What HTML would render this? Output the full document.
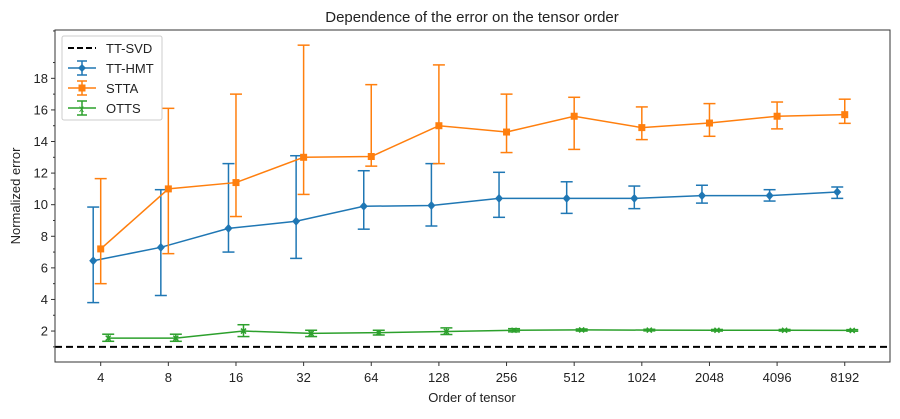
<!DOCTYPE html>
<html><head><meta charset="utf-8"><style>
body{margin:0;background:#fff;}
svg text{font-family:"Liberation Sans","DejaVu Sans",sans-serif;fill:#222;}
</style></head><body>
<svg id="chart" width="900" height="414" xmlns="http://www.w3.org/2000/svg">
<rect x="0" y="0" width="900" height="414" fill="#fff"/>
<text x="472" y="22" font-size="15" text-anchor="middle">Dependence of the error on the tensor order</text>
<text x="472" y="402" font-size="13" text-anchor="middle">Order of tensor</text>
<text x="20" y="196" font-size="13" text-anchor="middle" transform="rotate(-90 20 196)">Normalized error</text>
<g id="plot"></g>
<rect x="55" y="30" width="835" height="332" fill="none" stroke="#333" stroke-width="1"/>
<g>
<rect x="62" y="36" width="100" height="84" fill="#fff" stroke="#ccc" rx="2"/>
<line x1="68" y1="48" x2="96" y2="48" stroke="#000" stroke-width="2" stroke-dasharray="6,3"/>
<text x="106" y="53" font-size="13">TT-SVD</text>
<g stroke="#1f77b4" stroke-width="1.5"><line x1="68" y1="68" x2="96" y2="68"/><line x1="82" y1="61" x2="82" y2="75"/><line x1="77" y1="61" x2="87" y2="61"/><line x1="77" y1="75" x2="87" y2="75"/></g>
<path d="M82 64 L86 68 L82 72 L78 68Z" fill="#1f77b4"/>
<text x="106" y="73" font-size="13">TT-HMT</text>
<g stroke="#ff7f0e" stroke-width="1.5"><line x1="68" y1="88" x2="96" y2="88"/><line x1="82" y1="81" x2="82" y2="95"/><line x1="77" y1="81" x2="87" y2="81"/><line x1="77" y1="95" x2="87" y2="95"/></g>
<rect x="78.5" y="84.5" width="7" height="7" fill="#ff7f0e"/>
<text x="106" y="93" font-size="13">STTA</text>
<g stroke="#2ca02c" stroke-width="1.5"><line x1="68" y1="108" x2="96" y2="108"/><line x1="82" y1="101" x2="82" y2="115"/><line x1="77" y1="101" x2="87" y2="101"/><line x1="77" y1="115" x2="87" y2="115"/></g>
<text x="79" y="112" font-size="10" fill="#2ca02c" style="fill:#2ca02c">x</text>
<text x="106" y="113" font-size="13">OTTS</text>
</g>
</svg>
<script>
const categories=["4","8","16","32","64","128","256","512","1024","2048","4096","8192"];
const yTicks=[2,4,6,8,10,12,14,16,18];
const ttsvdValue=1;
const hmtValues=[6.45,7.3,8.5,8.95,9.9,9.95,10.4,10.4,10.4,10.57,10.57,10.8];
const hmtLow=[3.8,4.25,7.0,6.6,8.45,8.65,9.2,9.45,9.75,10.1,10.23,10.4];
const hmtHigh=[9.85,10.95,12.6,13.1,12.15,12.6,12.05,11.45,11.18,11.23,10.95,11.12];
const sttaValues=[7.2,11.0,11.4,13.0,13.05,15.0,14.6,15.6,14.88,15.17,15.6,15.7];
const sttaLow=[5.0,6.9,9.25,10.65,12.44,12.6,13.3,13.5,14.12,14.33,14.8,15.15];
const sttaHigh=[11.65,16.1,17.0,20.1,17.6,18.85,17.0,16.8,16.19,16.4,16.5,16.68];
const ottsValues=[1.55,1.55,2.0,1.85,1.9,1.97,2.05,2.07,2.06,2.05,2.05,2.04];
const ottsLow=[1.35,1.35,1.65,1.65,1.75,1.78,1.95,2.0,2.01,2.0,2.0,1.99];
const ottsHigh=[1.8,1.8,2.4,2.05,2.05,2.2,2.15,2.13,2.11,2.1,2.1,2.09];

const NS="http://www.w3.org/2000/svg";
const g=document.getElementById('plot');
const L=55,R=890,T=30,B=362;
const yMin=0.04,yMax=21.06;
function xs(i){return 100.7+i*67.64;}
function ys(v){return B-(v-yMin)/(yMax-yMin)*(B-T);}
function mk(tag,a,parent){const e=document.createElementNS(NS,tag);for(const k in a)e.setAttribute(k,a[k]);(parent||g).appendChild(e);return e;}

yTicks.forEach(v=>{
  const t=mk('line',{x1:L-4,x2:L,y1:ys(v),y2:ys(v),stroke:'#333'});
  
  
  const tx=mk('text',{x:L-7,y:ys(v)+4.5,'font-size':13,'text-anchor':'end'});
  tx.textContent=v;
  
  
});
for(let v=1;v<=21;v+=2){
  const t=mk('line',{x1:L-2,x2:L,y1:ys(v),y2:ys(v),stroke:'#333'});
  
  
}
categories.forEach((c,i)=>{
  const t=mk('line',{x1:xs(i),x2:xs(i),y1:B,y2:B+4,stroke:'#333'});
  
  
  const tx=mk('text',{x:xs(i),y:B+20,'font-size':13,'text-anchor':'middle'});
  tx.textContent=c;
  
  
});
const svd=mk('line',{x1:L,x2:R,y1:ys(ttsvdValue),y2:ys(ttsvdValue),stroke:'#000','stroke-width':2,'stroke-dasharray':'7,4'});



function series(vals,lo,hi,color,off,marker,name){
  const pts=vals.map((v,i)=>(xs(i)+off)+','+ys(v)).join(' ');
  const pl=mk('polyline',{points:pts,fill:'none',stroke:color,'stroke-width':1.5});
  
  
  vals.forEach((v,i)=>{
    const x=xs(i)+off;
    const eb=mk('g',{stroke:color,'stroke-width':1.5});
    
    
    mk('line',{x1:x,x2:x,y1:ys(lo[i]),y2:ys(hi[i])},eb);
    mk('line',{x1:x-6,x2:x+6,y1:ys(lo[i]),y2:ys(lo[i])},eb);
    mk('line',{x1:x-6,x2:x+6,y1:ys(hi[i]),y2:ys(hi[i])},eb);
    const y=ys(v);let m;
    if(marker==='d')m=mk('path',{d:`M${x} ${y-4.5} L${x+4} ${y} L${x} ${y+4.5} L${x-4} ${y}Z`,fill:color});
    else if(marker==='s')m=mk('rect',{x:x-3.5,y:y-3.5,width:7,height:7,fill:color});
    else m=mk('path',{d:`M${x-2.5} ${y-2.5} L${x+2.5} ${y+2.5} M${x-2.5} ${y+2.5} L${x+2.5} ${y-2.5}`,stroke:color,'stroke-width':1.5});
    
    
  });
}
series(hmtValues,hmtLow,hmtHigh,'#1f77b4',-7.5,'d','tt-hmt');
series(sttaValues,sttaLow,sttaHigh,'#ff7f0e',0,'s','stta');
series(ottsValues,ottsLow,ottsHigh,'#2ca02c',7.5,'x','otts');
</script>
</body></html>
